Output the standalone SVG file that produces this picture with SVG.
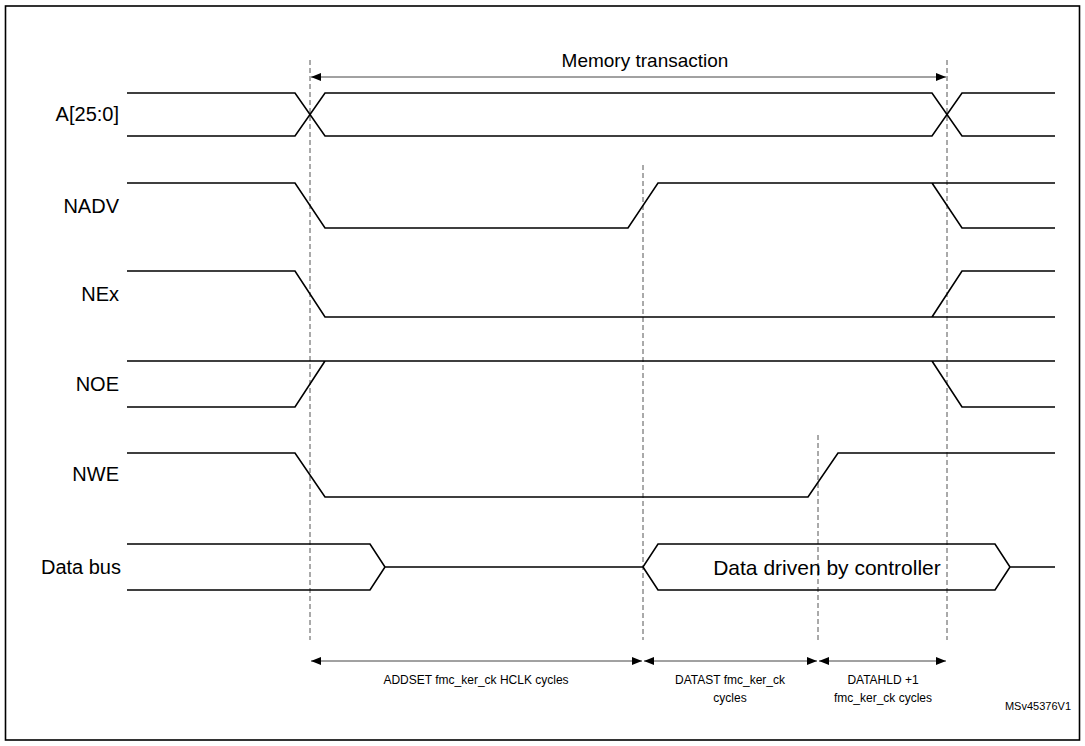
<svg xmlns="http://www.w3.org/2000/svg" width="1085" height="746" viewBox="0 0 1085 746">
<defs>
<marker id="ah" markerWidth="10" markerHeight="8" refX="10" refY="4" orient="auto-start-reverse" markerUnits="userSpaceOnUse"><path d="M0,0 L10,4 L0,8 Z" fill="#000"/></marker>
<style>
.sig{fill:none;stroke:#000;stroke-width:1.6}
.dash{stroke:#555;stroke-width:1;stroke-dasharray:5,3}
.dim{stroke:#444;stroke-width:1;marker-start:url(#ah);marker-end:url(#ah)}
text{font-family:"Liberation Sans",Arial,sans-serif;fill:#000}
.lbl{font-size:20px;text-anchor:end}
.sm{font-size:12px;text-anchor:middle}
</style>
</defs>
<rect x="0" y="0" width="1085" height="746" fill="#fff"/>
<rect x="5.5" y="6" width="1074" height="734" fill="none" stroke="#000" stroke-width="1.6"/>
<g id="connectors">
<line class="dash" x1="310" y1="60" x2="310" y2="640"/>
<line class="dash" x1="643" y1="165" x2="643" y2="640"/>
<line class="dash" x1="818" y1="435" x2="818" y2="640"/>
<line class="dash" x1="947" y1="60" x2="947" y2="640"/>
<line class="dim" x1="311" y1="77" x2="946" y2="77"/>
<line class="dim" x1="311" y1="661" x2="642" y2="661"/>
<line class="dim" x1="644" y1="661" x2="817" y2="661"/>
<line class="dim" x1="819" y1="661" x2="946" y2="661"/>
</g>
<g id="memtx"><text x="645" y="67" font-size="19" text-anchor="middle">Memory transaction</text></g>
<g id="sig-a"><text class="lbl" x="119" y="121">A[25:0]</text>
<path class="sig" d="M127,93 H295 L325,136 H932 L962,93 H1055 M127,136 H295 L325,93 H932 L962,136 H1055"/></g>
<g id="sig-nadv"><text class="lbl" x="119" y="213">NADV</text>
<path class="sig" d="M127,183 H295 L325,228 H628 L658,183 H1055 M932,183 L962,228 H1055"/></g>
<g id="sig-nex"><text class="lbl" x="119" y="301">NEx</text>
<path class="sig" d="M127,271 H295 L325,317 H1055 M932,317 L962,271 H1055"/></g>
<g id="sig-noe"><text class="lbl" x="119" y="391">NOE</text>
<path class="sig" d="M127,361 H1055 M127,407 H295 L325,361 M932,361 L962,407 H1055"/></g>
<g id="sig-nwe"><text class="lbl" x="119" y="481">NWE</text>
<path class="sig" d="M127,453 H295 L325,497 H808 L838,453 H1055"/></g>
<g id="sig-data"><text class="lbl" x="121" y="574">Data bus</text>
<path class="sig" d="M127,544 H370 L385,567 L370,590 H127 M385,567 H643 L658,544 H995 L1010,567 L995,590 H658 L643,567 M1010,567 H1055"/>
<text x="827" y="575" font-size="21" text-anchor="middle">Data driven by controller</text></g>
<g id="dims">
<text class="sm" x="476" y="684">ADDSET fmc_ker_ck HCLK cycles</text>
<text class="sm" x="730" y="684">DATAST fmc_ker_ck</text>
<text class="sm" x="730" y="702">cycles</text>
<text class="sm" x="883" y="684">DATAHLD +1</text>
<text class="sm" x="883" y="702">fmc_ker_ck cycles</text>
</g>
<text x="1071" y="710" font-size="11" text-anchor="end">MSv45376V1</text>
</svg>
